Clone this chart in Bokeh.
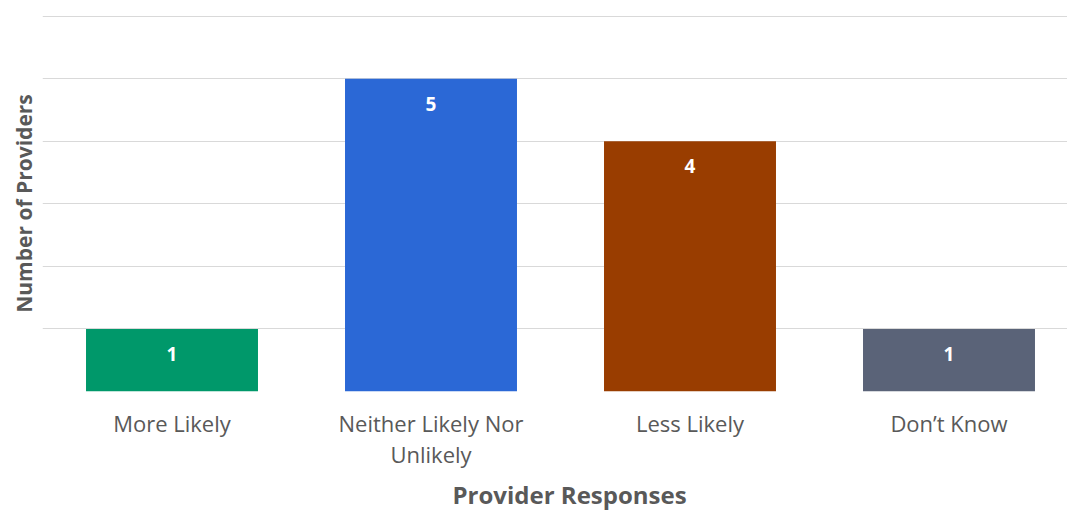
from bokeh.plotting import figure
from bokeh.models import ColumnDataSource, Range1d, FixedTicker, LabelSet, Title
from bokeh.core.properties import value
from bokeh.embed import file_html
from bokeh.resources import INLINE

categories = ["More Likely", "Neither Likely Nor\nUnlikely", "Less Likely", "Don\u2019t Know"]
counts = [1, 5, 4, 1]
colors = ["#00986A", "#2B68D6", "#993D00", "#5A6378"]
y_ticks = [0, 1, 2, 3, 4, 5, 6]

xs = [i + 0.5 for i in range(len(categories))]
src = ColumnDataSource(dict(x=xs, top=counts, color=colors, label=[str(c) for c in counts]))

p = figure(width=1067, height=514, output_backend="svg", toolbar_location=None,
           x_range=Range1d(0, 1025 / 259), y_range=Range1d(0, 6.01),
           min_border_left=42, min_border_right=0, min_border_top=15, min_border_bottom=123)
p.outline_line_color = None
p.background_fill_color = "white"
p.border_fill_color = "white"

p.vbar(x="x", top="top", bottom=0, width=0.664, color="color", source=src, line_color=None)

labels = LabelSet(x="x", y="top", text="label", source=src, y_offset=-25,
                  text_align="center", text_baseline="middle", text_color="white",
                  text_font=value("Open Sans"), text_font_style="bold", text_font_size="19px")
p.add_layout(labels)

p.xgrid.grid_line_color = None
p.ygrid.grid_line_color = "#D9D9D9"
p.ygrid.grid_line_width = 1
p.yaxis.ticker = FixedTicker(ticks=y_ticks)
p.yaxis.visible = False

ytitle = Title(text="Number of Providers", align="center", text_font="Open Sans",
               text_font_style="bold", text_font_size="21px", text_color="#595959",
               offset=0, standoff=9)
p.add_layout(ytitle, "left")

p.xaxis.ticker = FixedTicker(ticks=xs)
p.xaxis.major_label_overrides = {x: c for x, c in zip(xs, categories)}
p.xaxis.axis_line_color = None
p.xaxis.major_tick_line_color = None
p.xaxis.minor_tick_line_color = None
p.xaxis.major_tick_in = 0
p.xaxis.major_tick_out = 0
p.xaxis.major_label_text_font = "Open Sans"
p.xaxis.major_label_text_font_size = "22px"
p.xaxis.major_label_text_color = "#595959"
p.xaxis.major_label_text_line_height = 1.05
p.xaxis.major_label_standoff = 16

xtitle = Title(text="Provider Responses", align="left", text_font="Open Sans",
               text_font_style="bold", text_font_size="24px", text_color="#595959",
               text_line_height=1.0, offset=410, standoff=7)
p.add_layout(xtitle, "below")

open("out.html", "w").write(file_html(p, INLINE))
